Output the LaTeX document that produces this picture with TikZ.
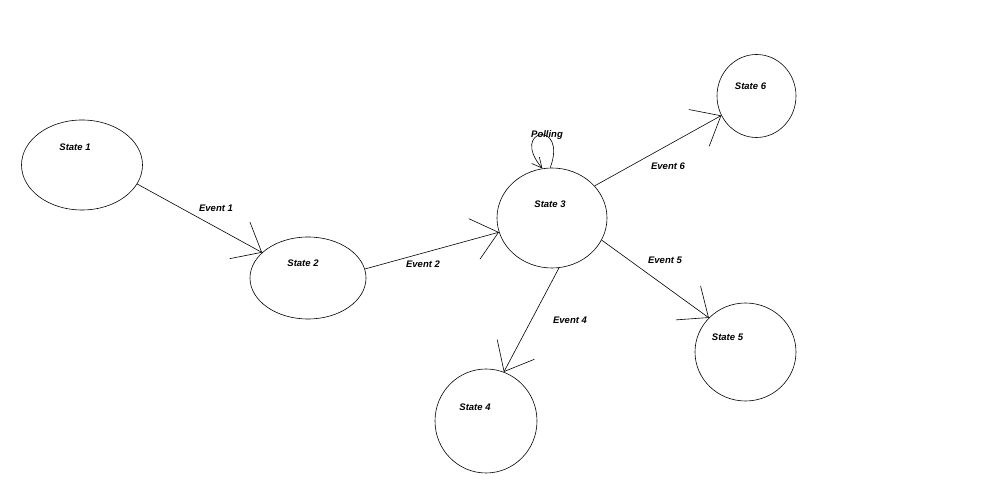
\documentclass[tikz,border=0pt]{standalone}
\usepackage{fontspec}
\setmainfont{Liberation Sans}
\usetikzlibrary{arrows.meta,shapes.geometric}

\begin{document}
\begin{tikzpicture}[
  x=1pt, y=1pt,
  every node/.style={font=\fontsize{9.5}{11}\selectfont\bfseries\itshape},
  st/.style={ellipse, draw, line width=0.6pt, inner sep=0pt},
  arr/.style={-{Straight Barb[length=25pt,width=42pt]}, line width=0.6pt},
  looparr/.style={-{Straight Barb[length=10pt,width=10pt]}, line width=0.6pt},
]
\useasboundingbox (0,0) rectangle (999,490);

\node[st, minimum width=121pt, minimum height=90pt,
      label={[xshift=-7pt,yshift=18pt]center:State 1}] (s1) at (82,325) {};
\node[st, minimum width=116pt, minimum height=82pt,
      label={[xshift=-5pt,yshift=15pt]center:State 2}] (s2) at (308,212) {};
\node[st, minimum width=110pt, minimum height=100pt,
      label={[xshift=-2pt,yshift=14pt]center:State 3}] (s3) at (552,272) {};
\node[st, minimum width=102pt, minimum height=104pt,
      label={[xshift=-11pt,yshift=14pt]center:State 4}] (s4) at (486,69) {};
\node[st, minimum width=101pt, minimum height=98pt,
      label={[xshift=-18pt,yshift=15pt]center:State 5}] (s5) at (745.5,138) {};
\node[st, minimum width=79pt, minimum height=83pt,
      label={[xshift=-6pt,yshift=10pt]center:State 6}] (s6) at (756.5,394) {};

% event labels
\node (e1) at (216,282) {Event 1};
\node (e2) at (423,226) {Event 2};
\node (e4) at (570,170) {Event 4};
\node (e5) at (665,230) {Event 5};
\node (e6) at (668,324) {Event 6};
\node (poll) at (547,354.5) {Polling};

\draw[arr] (s1.-19) -- (s2.151);
\draw[arr] (s2.9) -- (s3.195);
\draw[arr] (s3.-82) -- (s4.70);
\draw[arr] (s3.-24) -- (s5.137);
\draw[arr] (s3.37) -- (s6.209);
\draw[looparr] (s3.92) .. controls +(70:52) and +(130:52) .. (s3.101);

\end{tikzpicture}
\end{document}
